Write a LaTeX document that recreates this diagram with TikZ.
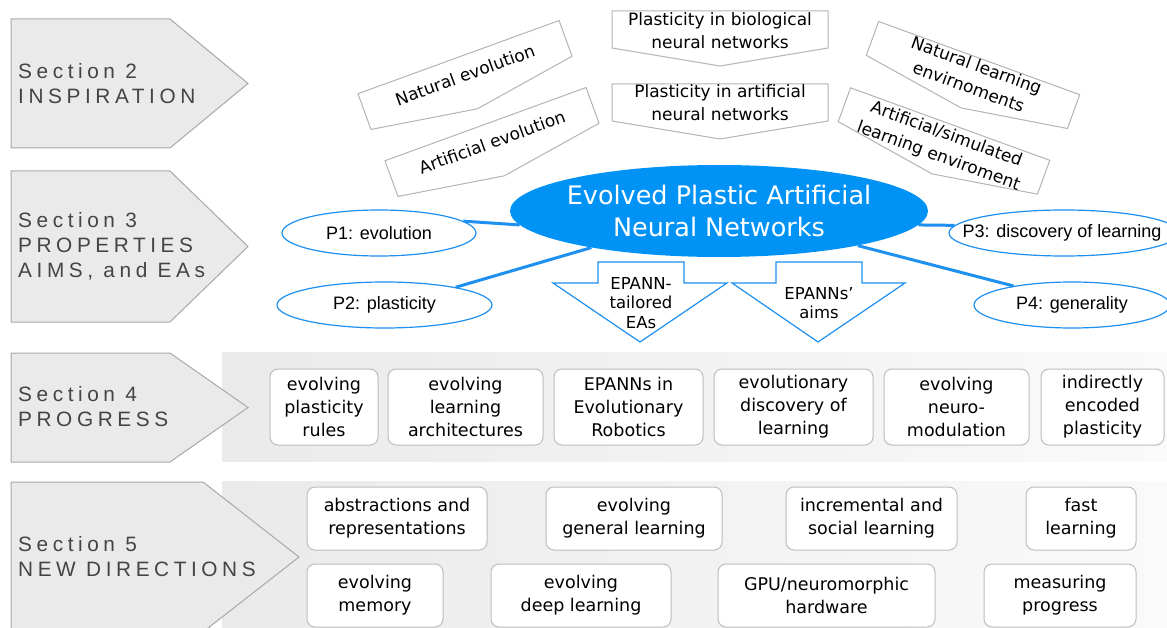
\documentclass[tikz,border=0pt]{standalone}
\usepackage{fontspec}
\usetikzlibrary{shapes.geometric}
\newfontfamily\secfont[LetterSpace=22]{Liberation Sans}
\newfontfamily\dvfont{DejaVu Sans}
\newfontfamily\arfont{Liberation Sans}
\definecolor{secfill}{HTML}{EAEAEA}
\definecolor{secdraw}{HTML}{A9A9A9}
\definecolor{sectxt}{HTML}{444444}
\definecolor{epblue}{HTML}{0093F5}
\definecolor{lineblue}{HTML}{1E90F0}
\definecolor{boxdraw}{HTML}{BDBDBD}
\definecolor{inspdraw}{HTML}{B4B4B4}
\begin{document}
\begin{tikzpicture}[x=1pt,y=-1pt,
  secshape/.style={fill=secfill, draw=secdraw, line width=1pt},
  sectext/.style={anchor=west, align=left, font=\secfont\fontsize{20.8}{25}\selectfont, text=sectxt, inner sep=0},
  inspbox/.style={draw=inspdraw, fill=white, line width=1pt},
  insptext/.style={align=center, font=\dvfont\fontsize{17}{23}\selectfont, inner sep=0, transform shape},
  pell/.style={ellipse, draw=lineblue, fill=white, line width=1.2pt, inner sep=0},
  ptext/.style={font=\arfont\fontsize{18}{21}\selectfont, inner sep=0},
  link/.style={draw=lineblue, line width=3pt},
  darrow/.style={draw=lineblue, fill=white, line width=1.2pt},
  arrtext/.style={align=center, font=\dvfont\fontsize{16.5}{19.5}\selectfont, inner sep=0},
  band/.style={left color=secfill, right color=gray!4, draw=none},
  topic/.style={draw=boxdraw, fill=white, rounded corners=8pt, line width=1pt, align=center, font=\dvfont\fontsize{17.5}{23}\selectfont, inner sep=0},
]
\useasboundingbox (0,0) rectangle (1167,628);
\clip (0,0) rectangle (1167,628);
\fill[white] (0,0) rectangle (1167,628);

% bands
\fill[band] (222,352) rectangle (1167,461);
\fill[band] (222,481) rectangle (1167,628);

% section pentagons
\draw[secshape] (11,19) -- (170,19) -- (248,83.5) -- (170,148) -- (11,148) -- cycle;
\node[sectext] (s2) at (18,84) {Section 2\\INSPIRATION};
\draw[secshape] (11,171) -- (170,171) -- (248,246.5) -- (170,322) -- (11,322) -- cycle;
\node[sectext] (s3) at (18,246) {Section 3\\PROPERTIES\\AIMS, and EAs};
\draw[secshape] (11,353) -- (170,353) -- (248,407.5) -- (170,462) -- (11,462) -- cycle;
\node[sectext] (s4) at (18,407) {Section 4\\PROGRESS};
\draw[secshape] (11,482) -- (203,482) -- (299,557) -- (203,632) -- (11,632) -- cycle;
\node[sectext] (s5) at (18,557) {Section 5\\NEW DIRECTIONS};

% inspiration shapes
\begin{scope}[shift={(465,75)}, rotate=20]
  \draw[inspbox] (-107,-19) -- (107,-19) -- (107,19) -- (0,36) -- (-107,19) -- cycle;
  \node[insptext] (natevo) at (0,0) {Natural evolution};
\end{scope}
\begin{scope}[shift={(492,142)}, rotate=20]
  \draw[inspbox] (-107,-19) -- (107,-19) -- (107,19) -- (0,36) -- (-107,19) -- cycle;
  \node[insptext] (artevo) at (0,0) {Artificial evolution};
\end{scope}
\begin{scope}[shift={(720,30)}]
  \draw[inspbox] (-108,-19) -- (108,-19) -- (108,18) -- (0,36) -- (-108,18) -- cycle;
  \node[insptext] (plbio) at (0,0.5) {Plasticity in biological\\neural networks};
\end{scope}
\begin{scope}[shift={(720,103)}]
  \draw[inspbox] (-108,-19) -- (108,-19) -- (108,18) -- (0,36) -- (-108,18) -- cycle;
  \node[insptext] (plart) at (0,0) {Plasticity in artificial\\neural networks};
\end{scope}
\begin{scope}[shift={(973,75)}, rotate=-20]
  \draw[inspbox] (-107,-18) -- (107,-18) -- (107,18) -- (0,35) -- (-107,18) -- cycle;
  \node[insptext] (natenv) at (0,1) {Natural learning\\envirnoments};
\end{scope}
\begin{scope}[shift={(944,141)}, rotate=-20]
  \draw[inspbox] (-106,-18) -- (106,-18) -- (106,18) -- (0,35) -- (-106,18) -- cycle;
  \node[insptext] (artenv) at (0,5) {Artificial/simulated\\learning enviroment};
\end{scope}

% properties
\node[ellipse, fill=epblue, minimum width=418, minimum height=92, inner sep=0] (main) at (719,211) {};
\node[text=white, align=center, font=\dvfont\fontsize{25.5}{32}\selectfont, inner sep=0] (maintext) at (main.center) {Evolved Plastic Artificial\\Neural Networks};

\node[pell, minimum width=194, minimum height=46] (p1) at (379,233) {};
\node[ptext] (p1t) at (p1.center) {P1: evolution};
\node[pell, minimum width=215, minimum height=46] (p2) at (384.5,305) {};
\node[ptext] (p2t) at (p2.center) {P2: plasticity};
\node[pell, minimum width=230, minimum height=46] (p3) at (1064,233) {};
\node[ptext] (p3t) at (1062,233) {P3: discovery of learning};
\node[pell, minimum width=196, minimum height=46] (p4) at (1072,305) {};
\node[ptext] (p4t) at (p4.center) {P4: generality};

\draw[link] (p1.8) -- (main.184);
\draw[link] (p2.14) -- (main.196);
\draw[link] (main.-4) -- (p3.176);
\draw[link] (main.-14) -- (p4.162);

% down arrows
\draw[darrow] (598,262) -- (684,262) -- (684,283) -- (727,283) -- (640,342) -- (553,283) -- (598,283) -- cycle;
\node[arrtext] (eas) at (641,303) {EPANN-\\tailored\\EAs};
\draw[darrow] (776,262) -- (862,262) -- (862,283) -- (905,283) -- (818,342) -- (732,283) -- (776,283) -- cycle;
\node[arrtext] (aims) at (819,303) {EPANNs’\\aims};

% section 4 topics
\node[topic, minimum width=108, minimum height=76] (g1) at (324,407) {evolving\\plasticity\\rules};
\node[topic, minimum width=155, minimum height=76] (g2) at (465.5,407) {evolving\\learning\\architectures};
\node[topic, minimum width=149, minimum height=76] (g3) at (628.5,407) {EPANNs in\\Evolutionary\\Robotics};
\node[topic, minimum width=159, minimum height=76] (g4) at (793.5,407) {evolutionary\\discovery of\\learning};
\node[topic, minimum width=145, minimum height=76] (g5) at (956.5,407) {evolving\\neuro-\\modulation};
\node[topic, minimum width=123, minimum height=76] (g6) at (1102.5,407) {indirectly\\encoded\\plasticity};

% section 5 topics
\node[topic, minimum width=180, minimum height=63] (d1) at (397,518.5) {abstractions and\\representations};
\node[topic, minimum width=176, minimum height=63] (d2) at (634,518.5) {evolving\\general learning};
\node[topic, minimum width=171, minimum height=63] (d3) at (871.5,518.5) {incremental and\\social learning};
\node[topic, minimum width=110, minimum height=63] (d4) at (1081,518.5) {fast\\learning};
\node[topic, minimum width=136, minimum height=63] (d5) at (375,595.5) {evolving\\memory};
\node[topic, minimum width=180, minimum height=63] (d6) at (581,595.5) {evolving\\deep learning};
\node[topic, minimum width=217, minimum height=63] (d7) at (826.5,595.5) {GPU/neuromorphic\\hardware};
\node[topic, minimum width=152, minimum height=63] (d8) at (1060,595.5) {measuring\\progress};
\end{tikzpicture}
\end{document}
